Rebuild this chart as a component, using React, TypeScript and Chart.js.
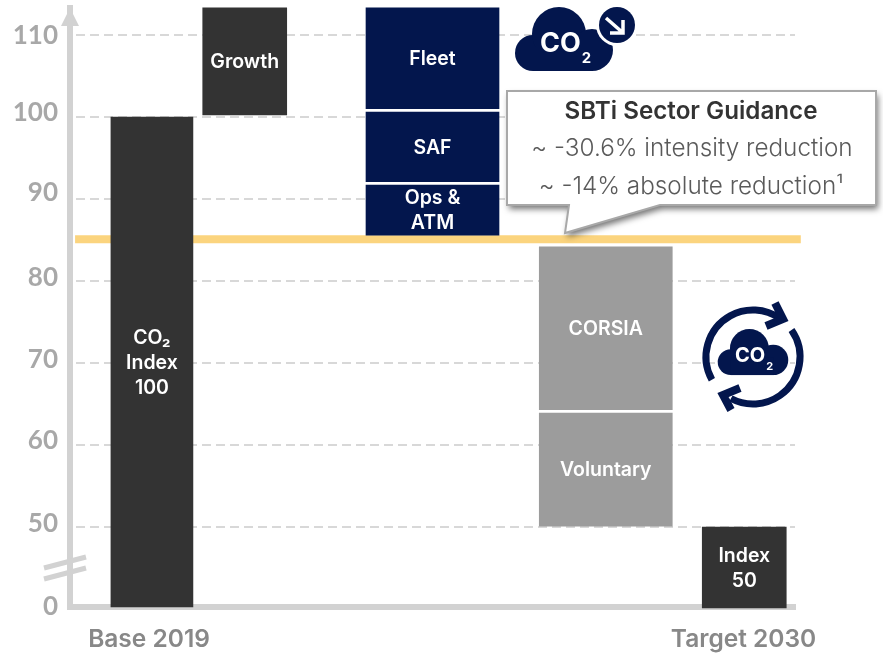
import React, { useEffect, useRef } from "react";
import { Chart, registerables } from "chart.js";

Chart.register(...registerables);

// ---- data ----
const TICK_VALUES = [0, 50, 60, 70, 80, 90, 100, 110];
const TICK_LABELS = ["0", "50", "60", "70", "80", "90", "100", "110"];
const X_POS = { base: 11.3, growth: 24.1, levers: 50, offsets: 73.9, target: 93 };
const X_TICKS = [10.9, 92.9];
const X_LABELS = ["Base 2019", "Target 2030"];

const BASE_RANGE = [0, 100];
const GROWTH_RANGE = [100.24, 113.3];
const TARGET_RANGE = [-0.5, 50];
const FLEET_RANGE = [101, 113.3];
const SAF_RANGE = [92.1, 100.6];
const OPS_RANGE = [85.6, 91.7];
const CORSIA_RANGE = [64.3, 84.15];
const VOLUNTARY_RANGE = [50.1, 63.9];
const GUIDANCE_LEVEL = 85.1;

const CALLOUT_TITLE = "SBTi Sector Guidance";
const CALLOUT_LINES = ["~ -30.6% intensity reduction", "~ -14% absolute reduction¹"];

// ---- styles ----
const DARK = "#333333";
const NAVY = "#03164D";
const GREY = "#9C9C9C";
const AXIS = "#D2D2D2";
const FONT = "Inter, sans-serif";

// Axis is broken: everything under 50 is squeezed into a short stretch.
const AXIS_ZERO = 40.24;
const toAxis = (v: number) => (v >= 50 ? v : AXIS_ZERO + (v / 50) * (50 - AXIS_ZERO));
const bar = (x: number, r: number[]) => ({ x, y: [toAxis(r[0]), toAxis(r[1])] });

const BAR_TEXT: Record<string, string[][]> = {
  base: [["CO₂", "Index", "100"]],
  dark: [["Growth"], ["Index", "50"]],
  navy: [["Fleet"], ["SAF"], ["Ops &", "ATM"]],
  grey: [["CORSIA"], ["Voluntary"]],
};

function cloud(ctx: CanvasRenderingContext2D, x: number, y: number, s: number, color: string) {
  ctx.fillStyle = color;
  const c = (cx: number, cy: number, r: number) => {
    ctx.beginPath();
    ctx.arc(x + cx * s, y + cy * s, r * s, 0, Math.PI * 2);
    ctx.fill();
  };
  c(19, 46, 18);
  c(45, 27, 27);
  c(78, 43, 21);
  ctx.fillRect(x + 19 * s, y + 40 * s, 60 * s, 24 * s);
}

function co2(ctx: CanvasRenderingContext2D, x: number, y: number, size: number) {
  ctx.fillStyle = "#fff";
  ctx.textAlign = "left";
  ctx.textBaseline = "alphabetic";
  ctx.font = `700 ${size}px ${FONT}`;
  ctx.fillText("CO", x, y);
  const w = ctx.measureText("CO").width;
  ctx.font = `700 ${size * 0.55}px ${FONT}`;
  ctx.fillText("2", x + w + 1, y + size * 0.42);
}

const decorations = {
  id: "decorations",
  beforeDraw(chart: any) {
    // nudge the tick labels up a little, as in the reference
    const s = chart.scales.y;
    s._labelItems = null;
    const shift = [0, 3, 4, 3, 3, 6, 4, -1];
    s.getLabelItems().forEach((it: any, i: number) => {
      it.textOffset -= shift[i];
    });
  },
  afterDraw(chart: any) {
    const ctx: CanvasRenderingContext2D = chart.ctx;
    const bars: [string, number][] = [["base", 0], ["dark", 1], ["navy", 2], ["grey", 3]];

    // bar captions
    ctx.save();
    ctx.fillStyle = "#fff";
    ctx.textAlign = "center";
    ctx.textBaseline = "middle";
    ctx.font = `600 19.5px ${FONT}`;
    bars.forEach(([key, ds]) => {
      chart.getDatasetMeta(ds).data.forEach((el: any, i: number) => {
        const lines = BAR_TEXT[key][i];
        lines.forEach((t, k) => {
          ctx.fillText(t, el.x, (el.y + el.base) / 2 + 1 + (k - (lines.length - 1) / 2) * 25);
        });
      });
    });
    ctx.restore();

    // arrow head and axis break
    ctx.save();
    ctx.fillStyle = AXIS;
    ctx.beginPath();
    ctx.moveTo(70, 8);
    ctx.lineTo(79, 26);
    ctx.lineTo(61, 26);
    ctx.closePath();
    ctx.fill();
    ctx.strokeStyle = AXIS;
    ctx.lineWidth = 5;
    [[44, 568, 86, 557], [44, 579, 86, 568]].forEach(([a, b, c, d]) => {
      ctx.beginPath();
      ctx.moveTo(a, b);
      ctx.lineTo(c, d);
      ctx.stroke();
    });
    ctx.restore();

    // top icon
    ctx.save();
    cloud(ctx, 514, 7, 1, NAVY);
    co2(ctx, 540, 52, 27);
    ctx.fillStyle = "#fff";
    ctx.beginPath();
    ctx.arc(617, 25, 21, 0, Math.PI * 2);
    ctx.fill();
    ctx.fillStyle = NAVY;
    ctx.beginPath();
    ctx.arc(617, 25, 18, 0, Math.PI * 2);
    ctx.fill();
    ctx.strokeStyle = "#fff";
    ctx.lineWidth = 3.5;
    ctx.lineJoin = "miter";
    ctx.beginPath();
    ctx.moveTo(606, 18);
    ctx.lineTo(622, 32);
    ctx.moveTo(610, 33);
    ctx.lineTo(623, 33);
    ctx.lineTo(623, 20);
    ctx.stroke();
    ctx.restore();

    // recycle icon
    ctx.save();
    cloud(ctx, 717, 329, 0.72, NAVY);
    co2(ctx, 735, 362, 20);
    ctx.strokeStyle = NAVY;
    ctx.lineWidth = 7;
    ctx.beginPath();
    ctx.arc(753, 357, 47, (151 * Math.PI) / 180, (305 * Math.PI) / 180);
    ctx.stroke();
    ctx.beginPath();
    ctx.arc(753, 357, 47, (-35 * Math.PI) / 180, (118 * Math.PI) / 180);
    ctx.stroke();
    ctx.lineWidth = 8;
    ctx.beginPath();
    ctx.moveTo(775, 303);
    ctx.lineTo(783, 319);
    ctx.lineTo(766, 326);
    ctx.stroke();
    ctx.beginPath();
    ctx.moveTo(740, 388);
    ctx.lineTo(723, 395);
    ctx.lineTo(731, 410);
    ctx.stroke();
    ctx.restore();

    // callout
    ctx.save();
    ctx.beginPath();
    ctx.moveTo(507, 91);
    ctx.lineTo(876, 91);
    ctx.lineTo(876, 205);
    ctx.lineTo(660, 205);
    ctx.lineTo(565, 233);
    ctx.lineTo(569, 205);
    ctx.lineTo(507, 205);
    ctx.closePath();
    ctx.save();
    ctx.shadowColor = "rgba(0,0,0,0.55)";
    ctx.shadowBlur = 6;
    ctx.shadowOffsetX = 2;
    ctx.shadowOffsetY = 4;
    ctx.fillStyle = "#fff";
    ctx.fill();
    ctx.restore();
    ctx.strokeStyle = "#A8A8A8";
    ctx.lineWidth = 2;
    ctx.stroke();
    ctx.textAlign = "center";
    ctx.textBaseline = "middle";
    ctx.fillStyle = "#333";
    ctx.font = `600 24.2px ${FONT}`;
    ctx.fillText(CALLOUT_TITLE, 691, 112);
    ctx.fillStyle = "#5A5A5A";
    ctx.font = `300 24.3px ${FONT}`;
    ctx.fillText(CALLOUT_LINES[0], 692, 149);
    ctx.fillText(CALLOUT_LINES[1], 691, 187);
    ctx.restore();
  },
};

export default function App() {
  const ref = useRef<HTMLCanvasElement>(null);
  useEffect(() => {
    const chart = new Chart(ref.current as HTMLCanvasElement, {
      type: "bar",
      data: {
        datasets: [
          { label: "Base", data: [bar(X_POS.base, BASE_RANGE)], backgroundColor: DARK, barThickness: 82, order: 1 },
          {
            label: "Endpoints",
            data: [bar(X_POS.growth, GROWTH_RANGE), bar(X_POS.target, TARGET_RANGE)],
            backgroundColor: DARK,
            barThickness: 84,
            order: 1,
          },
          {
            label: "Levers",
            data: [
              bar(X_POS.levers, FLEET_RANGE),
              bar(X_POS.levers, SAF_RANGE),
              bar(X_POS.levers, OPS_RANGE),
            ],
            backgroundColor: NAVY,
            barThickness: 133,
            order: 1,
          },
          {
            label: "Offsets",
            data: [bar(X_POS.offsets, CORSIA_RANGE), bar(X_POS.offsets, VOLUNTARY_RANGE)],
            backgroundColor: GREY,
            barThickness: 133,
            order: 1,
          },
          {
            type: "line",
            label: "SBTi",
            data: [{ x: 0.7, y: GUIDANCE_LEVEL }, { x: 100.8, y: GUIDANCE_LEVEL }],
            borderColor: "#FBD47E",
            borderWidth: 8,
            pointRadius: 0,
            clip: false,
            order: 2,
          },
        ] as any,
      },
      options: {
        animation: false,
        responsive: false,
        events: [],
        clip: false,
        datasets: { bar: { grouped: false } },
        layout: { padding: { top: 8, right: 88, left: 0, bottom: 0 } },
        plugins: { legend: { display: false }, tooltip: { enabled: false } },
        scales: {
          x: {
            type: "linear",
            offset: false,
            min: 0,
            max: 100,
            grid: { display: false, drawTicks: false },
            border: { display: true, color: AXIS, width: 6 },
            afterBuildTicks: (s: any) => {
              s.ticks = X_TICKS.map((value) => ({ value }));
            },
            afterFit: (s: any) => {
              s.height = 47;
              s.paddingLeft = 0;
              s.paddingRight = 0;
            },
            ticks: {
              autoSkip: false,
              maxRotation: 0,
              padding: 18,
              color: "#888888",
              font: { family: FONT, size: 24.5, weight: 600 },
              callback: (_v: any, i: number) => X_LABELS[i],
            },
          },
          y: {
            type: "linear",
            min: AXIS_ZERO,
            max: 113.29,
            afterBuildTicks: (s: any) => {
              s.ticks = TICK_VALUES.map((v) => ({ value: toAxis(v) }));
            },
            afterFit: (s: any) => {
              s.width = 70;
              s.paddingTop = 0;
              s.paddingBottom = 0;
            },
            grid: {
              drawTicks: false,
              lineWidth: 2,
              color: (c: any) => (c.index === 0 ? "rgba(0,0,0,0)" : "#D8D8D8"),
            },
            border: { display: true, color: AXIS, width: 6, dash: [9, 5], dashOffset: 11 },
            ticks: {
              autoSkip: false,
              padding: 12,
              color: "#A8A8A8",
              font: { family: "Lato, sans-serif", size: 26, weight: 700 },
              callback: (_v: any, i: number) => TICK_LABELS[i],
            },
          },
        },
      },
      plugins: [decorations],
    } as any);
    return () => chart.destroy();
  }, []);
  return (
    <div style={{ position: "absolute", left: 0, top: 0, width: 883, height: 654 }}>
      <canvas ref={ref} width={883} height={654} style={{ display: "block" }} />
    </div>
  );
}
